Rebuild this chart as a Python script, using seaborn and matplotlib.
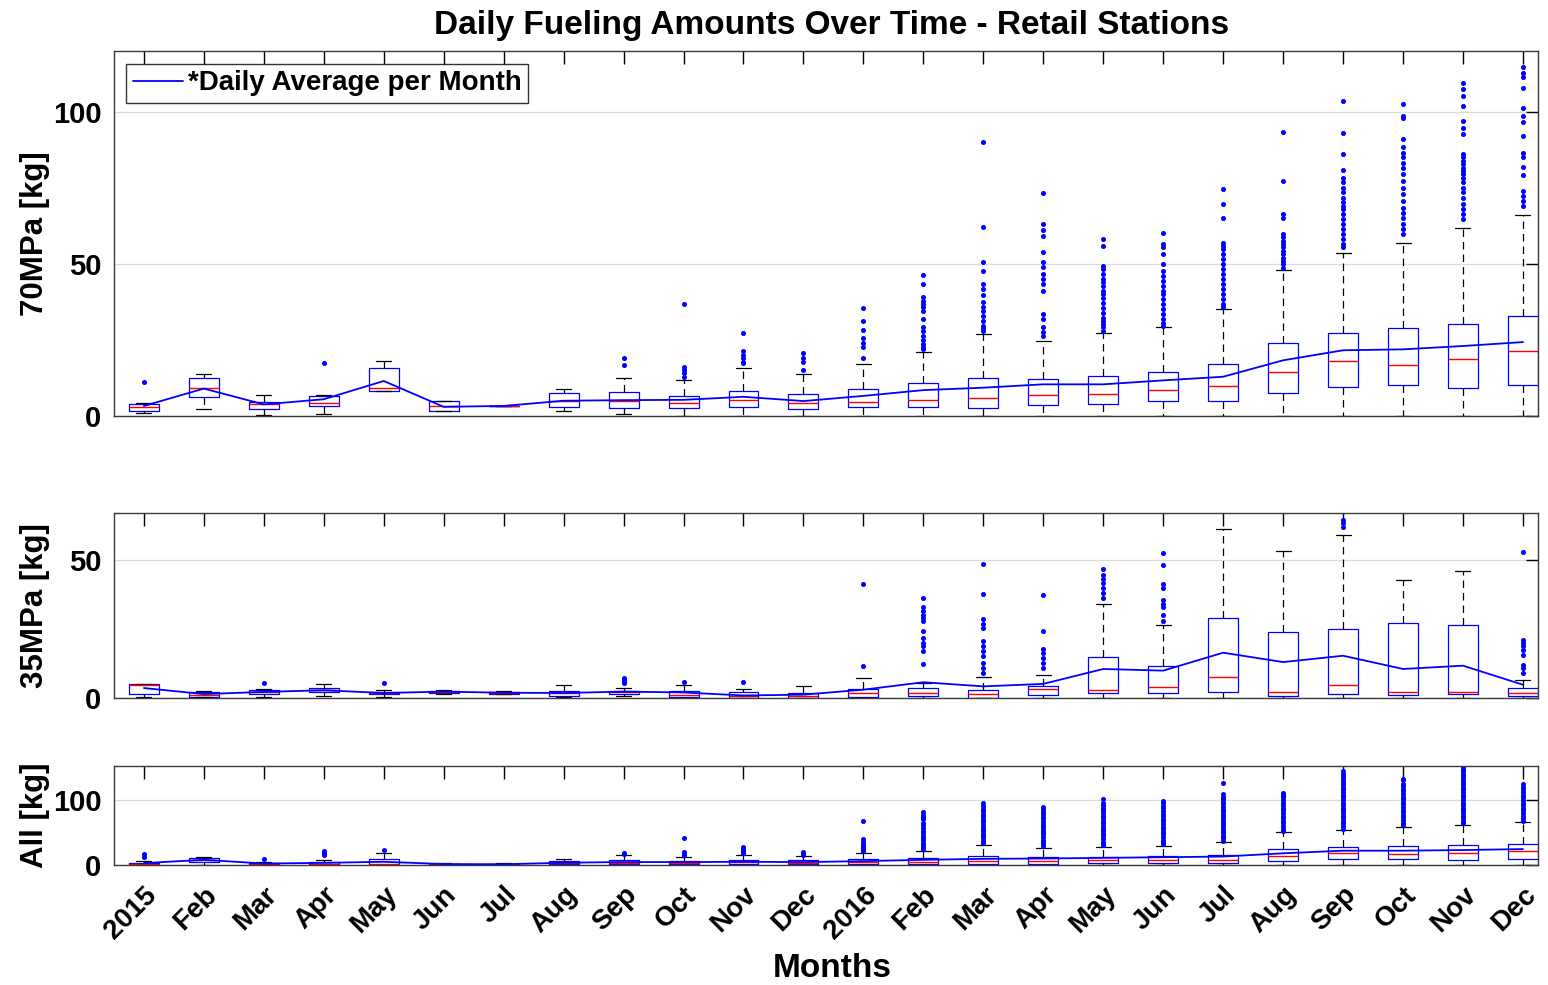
import seaborn as sns
import matplotlib.pyplot as plt
import numpy as np

# --- Styling ---
sns.set_style("white")
plt.rcParams['font.family'] = ['Liberation Sans', 'DejaVu Sans']
plt.rcParams['font.weight'] = 'bold'
plt.rcParams['text.color'] = 'black'
plt.rcParams['xtick.color'] = 'black'
plt.rcParams['ytick.color'] = 'black'
plt.rcParams['axes.labelcolor'] = 'black'

# --- Data ---
months = ["2015", "Feb", "Mar", "Apr", "May", "Jun", "Jul", "Aug", "Sep", "Oct", "Nov", "Dec",
          "2016", "Feb", "Mar", "Apr", "May", "Jun", "Jul", "Aug", "Sep", "Oct", "Nov", "Dec"]

# 70 MPa
p70_lo = [1.0, 2.4, 0.3, 0.5, 8.3, 1.6, 3.3, 1.6, 0.7, 0, 0, 0, 0, 0, 0, 0, 0, 0, 0, 0, 0, 0, 0, 0]
p70_q1 = [1.7, 6.1, 2.2, 3.3, 8.3, 1.6, 3.3, 2.8, 2.5, 2.7, 3.1, 2.3, 3.1, 3.1, 2.5, 3.5, 3.8, 4.9, 4.9, 7.7, 9.5, 10.2, 9.1, 10.2]
p70_med = [3.1, 9.1, 3.9, 4.3, 9.1, 3.3, 3.3, 5.0, 4.9, 4.2, 5.3, 4.2, 4.5, 5.3, 6.0, 6.8, 7.1, 8.4, 9.9, 14.3, 18.1, 16.7, 18.6, 21.4]
p70_q3 = [3.8, 12.6, 4.7, 6.5, 15.9, 4.9, 3.3, 7.4, 8.0, 6.7, 8.2, 7.1, 8.8, 10.7, 12.6, 12.3, 13.3, 14.6, 17.0, 24.1, 27.2, 28.8, 30.4, 32.9]
p70_hi = [4.4, 13.7, 7.0, 7.0, 18.1, 4.9, 3.3, 9.0, 12.4, 11.8, 15.7, 13.8, 17.1, 20.9, 26.9, 24.5, 27.4, 29.1, 35.1, 47.9, 53.7, 56.8, 61.8, 66.1]
p70_mean = [3.3, 9.0, 3.8, 5.5, 11.5, 3.0, 3.3, 5.0, 5.2, 5.3, 6.3, 4.9, 6.6, 8.5, 9.3, 10.4, 10.4, 11.7, 12.9, 18.3, 21.6, 21.9, 23.0, 24.3]
p70_out = [
    [11.2], [], [], [17.3], [], [], [], [], [16.8, 19.0],
    [12.9, 14.0, 15.1, 16.2, 36.7],
    [17.4, 17.9, 19.0, 20.1, 21.2, 27.4],
    [15.2, 17.9, 19.0, 20.6],
    [19.0, 22.8, 24.0, 25.5, 28.3, 31.2, 35.4],
    [22.0, 22.7, 23.6, 25.0, 26.4, 28.0, 29.3, 31.9, 34.6, 35.7, 36.8, 37.9, 39.0, 43.4, 46.2],
    [28.0, 28.9, 29.7, 31.3, 33.0, 34.4, 35.7, 37.4, 39.9, 41.8, 43.4, 47.8, 50.5, 62.1, 90.1],
    [26.4, 27.5, 29.1, 31.9, 33.5, 41.2, 43.4, 45.1, 46.7, 48.9, 50.5, 53.8, 59.3, 61.0, 63.2, 73.4],
    [28.0, 29.1, 30.2, 31.3, 32.3, 34.0, 35.6, 37.3, 38.9, 40.0, 41.1, 42.8, 43.9, 45.0, 46.6, 48.2, 49.3, 55.9, 58.3],
    [29.6, 30.7, 31.8, 33.4, 35.1, 36.7, 38.4, 40.0, 41.1, 42.8, 44.4, 46.1, 47.7, 49.9, 53.2, 55.4, 56.5, 60.1],
    [35.9, 36.7, 38.4, 40.0, 41.7, 43.3, 45.0, 46.6, 48.2, 49.9, 51.5, 53.2, 54.8, 55.9, 57.0, 65.0, 69.6, 74.6],
    [48.8, 49.9, 51.0, 52.1, 53.2, 54.3, 55.4, 56.5, 57.6, 58.7, 59.8, 65.2, 66.3, 77.3, 93.4],
    [55.4, 56.5, 58.1, 59.8, 61.4, 63.0, 64.7, 66.3, 68.0, 69.1, 70.2, 71.8, 73.5, 75.1, 76.8, 78.4, 80.8, 86.3, 93.2, 103.6],
    [59.8, 61.4, 63.0, 65.2, 66.9, 68.5, 70.7, 72.9, 75.1, 77.3, 79.5, 81.7, 83.3, 85.0, 86.6, 88.3, 91.0, 98.1, 98.7, 102.5],
    [64.7, 66.3, 68.0, 69.6, 71.8, 73.5, 75.1, 76.8, 78.4, 79.5, 80.6, 81.7, 82.8, 83.9, 85.0, 86.1, 92.7, 94.8, 97.0, 102.0, 105.3, 107.5, 109.6],
    [69.1, 70.7, 72.4, 74.0, 79.2, 81.9, 85.0, 86.4, 91.9, 96.8, 98.7, 101.4, 107.8, 111.3, 112.9, 114.6],
]

# 35 MPa
p35_lo = [0.4, 0.4, 0.4, 0.6, 0.4, 1.5, 1.4, 0.4, 0.8, 0, 0, 0, 0, 0, 0, 0, 0, 0, 0, 0, 0, 0, 0, 0]
p35_q1 = [1.4, 0.4, 1.3, 2.1, 1.3, 1.8, 1.4, 0.6, 1.4, 0.4, 0, 0, 0.4, 0.6, 0, 1.2, 1.8, 1.8, 2.1, 0.8, 1.6, 1.2, 1.4, 0.8]
p35_med = [4.8, 1.2, 2.1, 2.8, 1.8, 2.3, 1.8, 1.8, 2.1, 1.2, 0.6, 0.6, 1.8, 1.8, 1.6, 3.3, 3.0, 3.9, 7.5, 2.3, 4.8, 2.2, 2.3, 1.8]
p35_q3 = [5.1, 2.1, 2.8, 3.6, 2.1, 2.7, 2.2, 2.7, 2.4, 2.4, 2.1, 1.8, 3.3, 3.6, 3.0, 4.2, 14.7, 11.7, 29.0, 23.8, 24.8, 27.3, 26.4, 3.7]
p35_hi = [5.1, 2.6, 3.4, 5.1, 3.0, 3.0, 2.5, 4.8, 3.6, 4.7, 3.4, 4.2, 7.1, 5.4, 7.6, 8.2, 34.1, 26.3, 61.2, 53.4, 58.9, 42.6, 45.9, 6.6]
p35_mean = [3.6, 1.4, 2.2, 2.8, 1.8, 2.3, 1.9, 1.8, 2.3, 2.0, 0.9, 1.2, 3.0, 5.7, 4.2, 5.1, 10.5, 9.9, 16.4, 13.0, 15.3, 10.5, 11.7, 4.8]
p35_out = [
    [], [], [5.3], [], [5.4], [], [], [], [5.5, 6.2, 6.8, 7.2], [5.9], [5.9], [],
    [11.4, 41.2],
    [12.4, 17.1, 18.7, 19.9, 21.7, 24.2, 27.8, 29.0, 30.2, 31.4, 33.0, 36.1],
    [9.1, 10.9, 12.7, 15.1, 16.9, 18.7, 20.5, 25.4, 26.9, 28.6, 37.8, 48.7],
    [10.9, 12.7, 14.5, 16.3, 17.9, 24.2, 37.4],
    [36.2, 38.2, 40.0, 41.5, 43.0, 44.7, 46.7],
    [27.8, 30.2, 33.0, 34.2, 35.6, 39.9, 41.1, 48.3, 52.5],
    [], [], [62.0, 63.2, 64.4], [], [],
    [9.1, 10.9, 12.1, 15.7, 17.3, 18.7, 19.9, 21.1, 52.8],
]

# All
all_lo = [0.5, 0, 0.3, 0.3, 0.3, 0.5, 0.3, 0.5, 0, 0, 0, 0, 0, 0, 0, 0, 0, 0, 0, 0, 0, 0, 0, 0]
all_q1 = [0.8, 4.0, 0.8, 0.8, 0.5, 0.8, 0.6, 1.5, 1.5, 1.2, 1.5, 1.0, 1.5, 2.0, 2.0, 2.0, 3.0, 2.6, 3.0, 6.7, 8.7, 8.7, 7.7, 9.2]
all_med = [1.5, 7.5, 1.5, 2.0, 1.0, 1.2, 1.0, 3.0, 3.5, 3.0, 4.0, 3.5, 4.0, 5.0, 6.0, 5.5, 7.0, 8.0, 8.0, 14.0, 18.0, 17.0, 19.0, 22.0]
all_q3 = [3.5, 11.0, 2.5, 4.0, 9.5, 2.0, 1.5, 5.5, 7.0, 6.5, 8.0, 7.5, 9.0, 11.0, 14.4, 11.8, 12.8, 14.4, 15.9, 24.6, 27.2, 28.7, 30.3, 32.3]
all_hi = [6.5, 13.0, 5.0, 8.0, 18.0, 3.0, 2.5, 9.0, 15.0, 13.0, 15.5, 14.0, 18.0, 22.0, 30.8, 25.6, 27.7, 29.7, 34.9, 50.8, 53.8, 58.0, 62.0, 66.0]
all_mean = [3.0, 8.0, 2.3, 3.3, 5.0, 1.5, 1.2, 3.5, 4.6, 4.5, 5.0, 4.5, 6.0, 8.0, 9.5, 10.0, 11.0, 12.0, 13.0, 18.0, 22.0, 22.0, 23.0, 24.5]
all_out = [
    [12, 17], [], [9], [15, 18, 21], [23], [], [], [], [17, 19],
    [15, 17, 20, 42],
    [18, 20, 22, 25, 27],
    [16, 18, 20],
    [21, 24, 27, 31, 35, 40, 67],
    [25, 28, 31, 34, 38, 42, 45, 49, 53, 57, 61, 65, 70, 74, 77, 81],
    [34, 37, 41, 44, 48, 52, 55, 59, 63, 67, 71, 75, 79, 83, 86, 90, 95],
    [29, 32, 35, 39, 43, 47, 50, 54, 58, 62, 66, 70, 74, 78, 82, 86, 89],
    [30, 33, 36, 40, 44, 48, 52, 56, 60, 64, 68, 72, 76, 80, 84, 88, 92, 96, 101],
    [32, 35, 39, 43, 47, 51, 55, 59, 63, 67, 71, 75, 79, 83, 87, 91, 95, 99],
    [37, 41, 45, 49, 53, 57, 61, 65, 69, 73, 77, 81, 85, 89, 93, 97, 101, 105, 109, 126],
    [53, 56, 60, 64, 68, 72, 76, 80, 84, 88, 92, 96, 100, 104, 108, 111],
    [56, 60, 64, 68, 72, 76, 80, 84, 88, 92, 96, 100, 104, 108, 112, 116, 120, 124, 128, 132, 136, 140, 144],
    [61, 65, 69, 73, 77, 81, 85, 89, 93, 97, 101, 105, 109, 113, 117, 121, 125, 130, 132],
    [64, 68, 72, 76, 80, 84, 88, 92, 96, 100, 104, 108, 112, 116, 120, 124, 128, 132, 136, 140, 144, 148, 150],
    [68, 72, 76, 80, 84, 88, 92, 96, 100, 104, 108, 112, 116, 120, 125],
]

positions = np.arange(1, len(months) + 1)


def draw_panel(ax, lo, q1, med, q3, hi, mean, out, ylim, yticks, ylabel, legend=False):
    stats = [dict(whislo=a, q1=b, med=c, q3=d, whishi=e, fliers=f)
             for a, b, c, d, e, f in zip(lo, q1, med, q3, hi, out)]
    ax.bxp(stats, positions=positions, widths=0.5, capwidths=0.25, manage_ticks=False,
           boxprops=dict(color="blue", lw=0.9),
           medianprops=dict(color="red", lw=1.0),
           whiskerprops=dict(color="black", lw=0.9, linestyle=(0, (6, 4))),
           capprops=dict(color="black", lw=0.9),
           flierprops=dict(marker="o", markersize=2.6, markerfacecolor="blue",
                           markeredgecolor="blue", linestyle="none"))
    sns.lineplot(x=positions, y=mean, ax=ax, color="blue", lw=1.3, zorder=5,
                 label="*Daily Average per Month" if legend else None, legend=legend)
    ax.set_xlim(0.5, 24.25)
    ax.set_ylim(*ylim)
    ax.set_yticks(yticks)
    ax.set_xticks(positions)
    ax.yaxis.grid(True, color="#dcdcdc", lw=0.9)
    ax.set_axisbelow(True)
    ax.tick_params(direction="in", top=True, right=True, length=9, width=1,
                   labelsize=21, pad=9)
    ax.set_ylabel(ylabel, fontsize=22.5, fontweight="bold")
    ax.yaxis.set_label_coords(-0.045, 0.5)
    for s in ax.spines.values():
        s.set_color("#3a3a3a")
        s.set_linewidth(1.0)


fig = plt.figure(figsize=(15.48, 9.85), dpi=100)
ax1 = fig.add_axes([0.0736, 0.5777, 0.9199, 0.3705])
ax2 = fig.add_axes([0.0736, 0.2914, 0.9199, 0.1878])
ax3 = fig.add_axes([0.0736, 0.1218, 0.9199, 0.1005])

draw_panel(ax1, p70_lo, p70_q1, p70_med, p70_q3, p70_hi, p70_mean, p70_out,
           (0, 120), [0, 50, 100], "70MPa [kg]", legend=True)
draw_panel(ax2, p35_lo, p35_q1, p35_med, p35_q3, p35_hi, p35_mean, p35_out,
           (0, 67), [0, 50], "35MPa [kg]")
draw_panel(ax3, all_lo, all_q1, all_med, all_q3, all_hi, all_mean, all_out,
           (0, 152), [0, 100], "All [kg]")

ax1.set_xticklabels([])
ax2.set_xticklabels([])
ax3.set_xticklabels(months, rotation=45, ha="right", rotation_mode="anchor", fontsize=20)
ax3.tick_params(axis="x", pad=12)

leg = ax1.legend(loc="upper left", fontsize=20, frameon=True, fancybox=False,
                 edgecolor="black", handlelength=1.8, borderpad=0.25,
                 handletextpad=0.15, borderaxespad=0.45)
leg.get_frame().set_linewidth(1.0)
for t in leg.get_texts():
    t.set_fontweight("bold")

fig.text(0.5375, 0.974, "Daily Fueling Amounts Over Time - Retail Stations",
         ha="center", va="center", fontsize=24, fontweight="bold")
fig.text(0.5375, 0.017, "Months", ha="center", va="center", fontsize=24, fontweight="bold")

fig.savefig("out.png", dpi=100)
